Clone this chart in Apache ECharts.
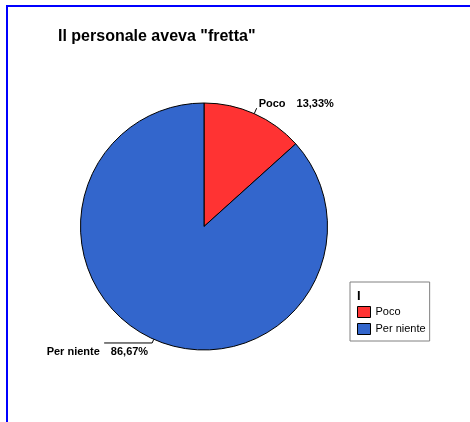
<!DOCTYPE html>
<html>
<head>
<meta charset="utf-8">
<style>
  html, body { margin: 0; padding: 0; background: #ffffff; }
  #chart { width: 470px; height: 422px; }
</style>
<script src="https://cdn.jsdelivr.net/npm/echarts@6/dist/echarts.min.js"></script>
</head>
<body>
<div id="chart"></div>
<script>
// Answers to "Il personale aveva fretta" (percent of respondents)
const categories = ['Poco', 'Per niente'];
const percentages = [13.33, 86.67];
const sliceColors = ['#ff3333', '#3366cc'];
const chartTitle = 'Il personale aveva "fretta"';
const legendTitle = 'I';

const FONT = '"Liberation Sans", Arial, Helvetica, sans-serif';

function fmtPercent(v) {
  return v.toFixed(2).replace('.', ',') + '%';
}

// Label nudges so the text sits next to the end of its leader line
const labelShift = [
  { dx: -3, dy: -4 },
  { dx: 49, dy: 9 }
];

const chart = echarts.init(document.getElementById('chart'), null, { renderer: 'canvas' });

chart.setOption({
  backgroundColor: '#ffffff',
  animation: false,
  title: {
    text: chartTitle,
    left: 58,
    top: 29,
    padding: 0,
    textStyle: { fontFamily: FONT, fontSize: 16, fontWeight: 'bold', color: '#000000' }
  },
  legend: {
    orient: 'vertical',
    left: 350,
    top: 282,
    padding: [24, 4, 6, 7],
    borderColor: '#808080',
    borderWidth: 1,
    backgroundColor: '#ffffff',
    itemWidth: 13,
    itemHeight: 11,
    itemGap: 5,
    icon: 'rect',
    itemStyle: { borderColor: '#000000', borderWidth: 1 },
    textStyle: { fontFamily: FONT, fontSize: 11, color: '#000000' },
    data: categories
  },
  graphic: [
    {
      // frame lines along the top and left edges
      type: 'polyline',
      silent: true,
      shape: { points: [[7, 422], [7, 6], [470, 6]] },
      style: { stroke: '#0000ff', lineWidth: 2, fill: null }
    },
    {
      type: 'text',
      left: 357,
      top: 290,
      z: 100,
      zlevel: 1,
      silent: true,
      style: { text: legendTitle, font: 'bold 13px ' + FONT, fill: '#000000' }
    }
  ],
  series: [
    {
      type: 'pie',
      center: [204, 226.5],
      radius: [0, 123.5],
      startAngle: 90,
      clockwise: true,
      avoidLabelOverlap: false,
      itemStyle: { borderColor: '#000000', borderWidth: 1 },
      label: {
        show: true,
        position: 'outside',
        fontFamily: FONT,
        fontSize: 11,
        fontWeight: 'bold',
        color: '#000000',
        formatter: function (p) {
          return '{n|' + p.name + '}{v|' + fmtPercent(p.value) + '}';
        },
        rich: {
          n: { fontFamily: FONT, fontSize: 11, fontWeight: 'bold', color: '#000000' },
          v: { fontFamily: FONT, fontSize: 11, fontWeight: 'bold', color: '#000000', padding: [0, 0, 0, 11] }
        }
      },
      labelLine: {
        show: true,
        length: 6,
        length2: 0,
        lineStyle: { color: '#000000', width: 1 }
      },
      labelLayout: function (p) {
        const s = labelShift[p.dataIndex] || { dx: 0, dy: 0 };
        return { dx: s.dx, dy: s.dy, labelLinePoints: p.labelLinePoints };
      },
      emphasis: { disabled: true },
      data: categories.map(function (name, i) {
        const item = { name: name, value: percentages[i], itemStyle: { color: sliceColors[i] } };
        if (i === 1) {
          item.labelLine = { length: 4, length2: 48 };
        }
        return item;
      })
    }
  ]
});
</script>
</body>
</html>
